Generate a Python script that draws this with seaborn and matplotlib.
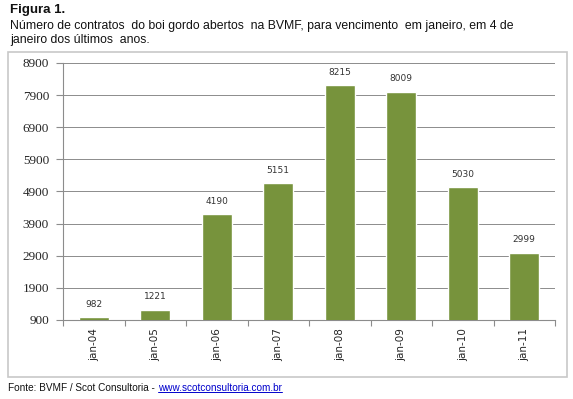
import matplotlib
matplotlib.use("Agg")
import matplotlib.pyplot as plt
import seaborn as sns
from matplotlib.patches import Rectangle
from matplotlib.lines import Line2D

# ---- data ----
categories = ["jan-04", "jan-05", "jan-06", "jan-07", "jan-08", "jan-09", "jan-10", "jan-11"]
contracts = [982, 1221, 4190, 5151, 8215, 8009, 5030, 2999]
yticks = [900, 1900, 2900, 3900, 4900, 5900, 6900, 7900, 8900]

sns.set_style("white")
plt.rcParams["font.family"] = ["DejaVu Sans"]

W, H = 573, 399
fig = plt.figure(figsize=(W / 100, H / 100), dpi=100)
ax = fig.add_axes([63 / W, 1 - 320 / H, 492 / W, 257 / H])

sns.barplot(x=categories, y=contracts, color="#77933C", width=0.48,
            saturation=1, ax=ax, zorder=3)

ax.set_ylim(900, 8900)
ax.set_yticks(yticks)
ax.set_xlabel("")
ax.set_ylabel("")
ax.yaxis.grid(True, color="#8c8c8c", linewidth=0.7, zorder=0)
ax.tick_params(axis="x", rotation=90, labelsize=7.5, pad=6)
ax.tick_params(axis="y", left=True, length=5, width=0.8, color="#8c8c8c", pad=5)
ax.set_xticks([i - 0.5 for i in range(len(categories) + 1)], minor=True)
ax.tick_params(axis="x", which="major", length=0)
ax.tick_params(axis="x", which="minor", bottom=True, length=4, width=0.8, color="#8c8c8c")
for lbl in ax.get_yticklabels():
    lbl.set_fontfamily("Liberation Serif")
    lbl.set_fontsize(9.5)
for s in ["top", "right"]:
    ax.spines[s].set_visible(False)
for s in ["left", "bottom"]:
    ax.spines[s].set_color("#8c8c8c")
    ax.spines[s].set_linewidth(0.8)

for i, v in enumerate(contracts):
    ax.annotate(str(v), (i, v), xytext=(0, 6), textcoords="offset points",
                ha="center", va="bottom", fontsize=6.5, color="#333333")

# chart border
fig.patches.append(Rectangle((8 / W, 1 - 377 / H), 559 / W, 325 / H,
                             transform=fig.transFigure, fill=False,
                             edgecolor="#c8c8c8", linewidth=1.2))

txt = dict(family="Liberation Sans", va="center", color="#111111")
fig.text(10 / W, 1 - 10 / H, "Figura 1.", fontsize=9.5, fontweight="bold", **txt)
fig.text(10 / W, 1 - 26 / H,
         "Número de contratos  do boi gordo abertos  na BVMF, para vencimento  em janeiro, em 4 de",
         fontsize=8.8, **txt)
fig.text(10 / W, 1 - 40 / H, "janeiro dos últimos  anos.", fontsize=8.8, **txt)

src = fig.text(8 / W, 1 - 388 / H, "Fonte: BVMF / Scot Consultoria - ", fontsize=7.2, **txt)
renderer = fig.canvas.get_renderer()
bb = src.get_window_extent(renderer)
url = fig.text(bb.x1 / W, 1 - 388 / H, "www.scotconsultoria.com.br", fontsize=7.2,
               family="Liberation Sans", va="center", color="#0000cc")
ub = url.get_window_extent(renderer)
fig.lines.append(Line2D([ub.x0 / W, ub.x1 / W], [(ub.y0 + 1) / H] * 2,
                        transform=fig.transFigure, color="#0000cc", linewidth=0.7))

fig.savefig("out.png", dpi=100)
